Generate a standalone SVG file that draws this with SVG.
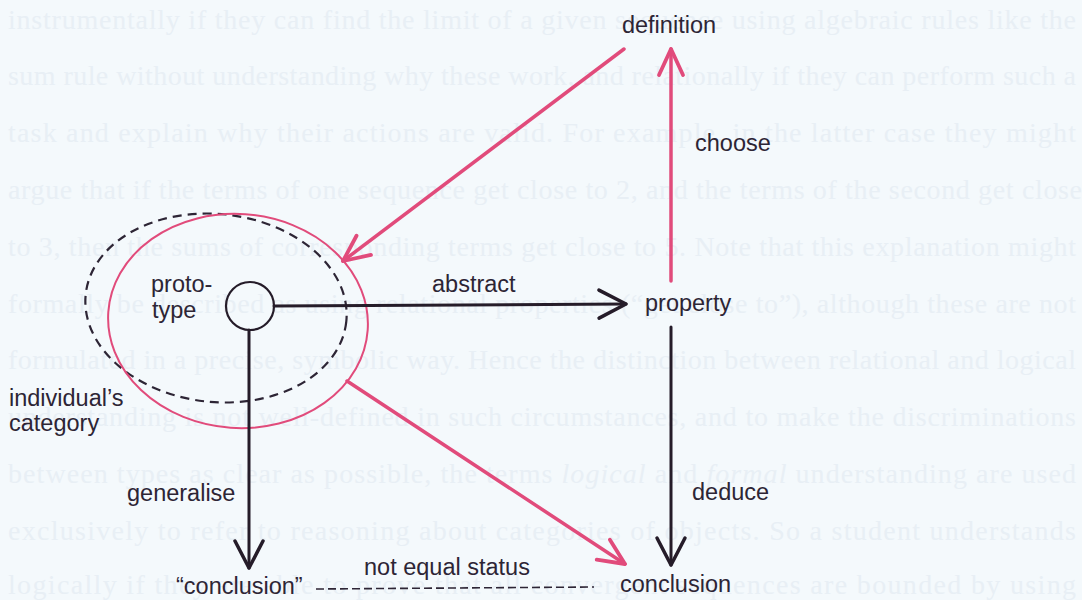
<svg xmlns="http://www.w3.org/2000/svg" width="1082" height="600" viewBox="0 0 1082 600">
<style>
.bg{font-family:"Liberation Serif","Times New Roman",serif;font-size:28px;fill:#e8eff5}
.lbl{font-family:"Liberation Sans",Arial,sans-serif;font-size:23.5px;fill:#2d2535}
.pk{stroke:#e14b7b;stroke-width:3.5;fill:none;stroke-linecap:round}
.bk{stroke:#251c29;stroke-width:3;fill:none;stroke-linecap:round}
</style>
<defs>
<marker id="ahp" markerUnits="userSpaceOnUse" markerWidth="40" markerHeight="40" viewBox="-30 -20 40 40" refX="0" refY="0" orient="auto">
<path d="M -26 -12 L 0 0 L -26 12" fill="none" stroke="#e14b7b" stroke-width="3.8" stroke-linecap="round" stroke-linejoin="round"/>
</marker>
<marker id="ahb" markerUnits="userSpaceOnUse" markerWidth="40" markerHeight="40" viewBox="-30 -20 40 40" refX="0" refY="0" orient="auto">
<path d="M -27 -14 L 0 0 L -27 14" fill="none" stroke="#251c29" stroke-width="3.5" stroke-linecap="round" stroke-linejoin="round"/>
</marker>
</defs>
<rect width="1082" height="600" fill="#f4f9fc"/>
<g id="page-text" class="bg">
<text x="8" y="28.5" textLength="1068" lengthAdjust="spacing">instrumentally if they can find the limit of a given sequence using algebraic rules like the</text>
<text x="8" y="85.3" textLength="1068" lengthAdjust="spacing">sum rule without understanding why these work, and relationally if they can perform such a</text>
<text x="8" y="142.1" textLength="1068" lengthAdjust="spacing">task and explain why their actions are valid.  For example, in the latter case they might</text>
<text x="8" y="198.9" textLength="1074" lengthAdjust="spacing">argue that if the terms of one sequence get close to 2, and the terms of the second get close</text>
<text x="8" y="255.7" textLength="1068" lengthAdjust="spacing">to 3, then the sums of corresponding terms get close to 5.  Note that this explanation might</text>
<text x="8" y="312.5" textLength="1068" lengthAdjust="spacing">formally be described as using relational properties (“get close to”), although these are not</text>
<text x="8" y="369.3" textLength="1068" lengthAdjust="spacing">formulated in a precise, symbolic way.  Hence the distinction between relational and logical</text>
<text x="8" y="426.1" textLength="1068" lengthAdjust="spacing">understanding is not well-defined in such circumstances, and to make the discriminations</text>
<text x="8" y="482.9" textLength="1068" lengthAdjust="spacing">between types as clear as possible, the terms <tspan font-style="italic">logical</tspan> and <tspan font-style="italic">formal</tspan> understanding are used</text>
<text x="8" y="539.7" textLength="1068" lengthAdjust="spacing">exclusively to refer to reasoning about categories of objects.  So a student understands</text>
<text x="8" y="594" textLength="1068" lengthAdjust="spacing">logically if they are able to prove that all convergent sequences are bounded by using</text>
</g>
<g id="category">
<ellipse cx="216" cy="308" rx="131" ry="94" transform="rotate(6 216 308)" fill="none" stroke="#2d2535" stroke-width="2.2" stroke-dasharray="9 6"/>
<ellipse cx="238" cy="321" rx="130" ry="107" transform="rotate(4 238 321)" fill="none" stroke="#e14b7b" stroke-width="2"/>
<text class="lbl" x="9" y="406">individual’s</text>
<text class="lbl" x="9" y="431">category</text>
</g>
<g id="prototype">
<circle cx="250" cy="306" r="24" fill="none" stroke="#251c29" stroke-width="2.2"/>
<text class="lbl" x="151" y="292">proto-</text>
<text class="lbl" x="152" y="318">type</text>
</g>
<g id="definition"><text class="lbl" x="669" y="33" text-anchor="middle">definition</text></g>
<g id="property"><text class="lbl" x="645" y="311">property</text></g>
<g id="conclusion-quoted"><text class="lbl" x="176" y="594">“conclusion”</text></g>
<g id="conclusion"><text class="lbl" x="620" y="592">conclusion</text></g>
<g id="connectors">
<line class="bk" x1="274" y1="306" x2="626" y2="304" marker-end="url(#ahb)"/>
<line class="pk" x1="671" y1="281" x2="671" y2="49" marker-end="url(#ahp)"/>
<line class="pk" x1="624" y1="49" x2="343" y2="261" marker-end="url(#ahp)"/>
<line class="bk" x1="671" y1="327" x2="671" y2="565" marker-end="url(#ahb)"/>
<line class="bk" x1="249" y1="330" x2="249" y2="568" marker-end="url(#ahb)"/>
<line class="pk" x1="347" y1="381" x2="625" y2="564" marker-end="url(#ahp)"/>
<line x1="316" y1="589" x2="594" y2="587" stroke="#2d2535" stroke-width="1.6" stroke-dasharray="8 4"/>
<text class="lbl" x="695" y="151">choose</text>
<text class="lbl" x="432" y="292">abstract</text>
<text class="lbl" x="692" y="500">deduce</text>
<text class="lbl" x="127" y="501">generalise</text>
<text class="lbl" x="364" y="575">not equal status</text>
</g>
</svg>
